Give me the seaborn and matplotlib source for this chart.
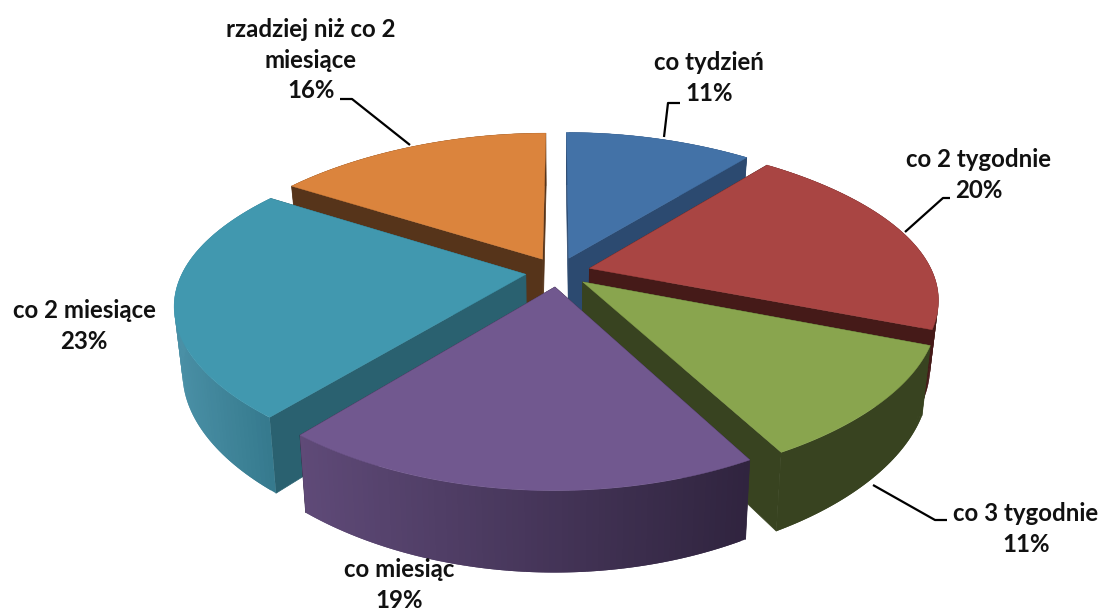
import numpy as np
import matplotlib
matplotlib.use("Agg")
import matplotlib.pyplot as plt
import seaborn as sns

categories = ["co tydzień", "co 2 tygodnie", "co 3 tygodnie", "co miesiąc", "co 2 miesiące", "rzadziej niż co 2\nmiesiące"]
values = [11, 20, 11, 19, 23, 16]

top_colors = ["#4372a7", "#a94543", "#89a54e", "#71588f", "#4198af", "#db843d"]
side_colors = ["#2c4a70", "#451a18", "#384320", "#33263f", "#2a6170", "#56341a"]
rim_left = ["#2c4a70", "#451a18", "#384320", "#5f4a78", "#4a90a6", "#56341a"]
rim_right = ["#2c4a70", "#451a18", "#384320", "#30243f", "#367a8e", "#56341a"]

sns.set_theme(style="white")
plt.rcParams["font.family"] = ["Lato", "DejaVu Sans"]

CX, CY, RX, RY, KX, KY, DEPTH, EXPLODE = 558, 272, 343, 156, 0.2, 0.2, 64, 0.095
BOW, CONVERGE = 0.05, 0.022
draw_order = [0, 5, 1, 4, 2, 3]


def project(X, Y, z=0.0):
    sx = (1 - BOW * Y ** 2) / (1 - KX * Y) * (1 - CONVERGE * z)
    sy = 1 / (1 - KY * Y)
    return CX + RX * X * sx, CY + RY * Y * sy + DEPTH * z * sy


fig = plt.figure(figsize=(11.02, 6.11), dpi=100)
ax = fig.add_axes([0, 0, 1, 1])
ax.set_xlim(0, 1102)
ax.set_ylim(611, 0)
ax.axis("off")

edges = np.cumsum([0] + values) / sum(values) * 2 * np.pi


def disc_point(theta, ox, oy, r=1.0):
    return ox + r * np.sin(theta), oy - r * np.cos(theta)


for i in draw_order:
    a0, a1 = edges[i], edges[i + 1]
    mid = (a0 + a1) / 2
    ox, oy = EXPLODE * np.sin(mid), -EXPLODE * np.cos(mid)
    th = np.linspace(a0, a1, 80)
    X, Y = disc_point(th, ox, oy)
    base_z = draw_order.index(i) * 3

    # cut faces
    for t in (a0, a1):
        px, py = disc_point(t, ox, oy)
        pts = [project(ox, oy), project(px, py), project(px, py, 1), project(ox, oy, 1)]
        ax.fill(*zip(*pts), color=side_colors[i], lw=0.5, zorder=base_z + 1)

    # outer rim, shaded from left to right; each quad overlaps the next to hide seams
    c0 = np.array(matplotlib.colors.to_rgb(rim_left[i]))
    c1 = np.array(matplotlib.colors.to_rgb(rim_right[i]))
    sx = project(X, Y)[0]
    for j in range(len(th) - 1):
        k = min(j + 2, len(th) - 1)
        f = (sx[j] - sx.min()) / max(sx.max() - sx.min(), 1)
        pts = [project(X[j], Y[j]), project(X[k], Y[k]),
               project(X[k], Y[k], 1), project(X[j], Y[j], 1)]
        ax.fill(*zip(*pts), color=c0 + (c1 - c0) * f, lw=0, zorder=base_z + 2)

    # top surface
    tx = np.concatenate([[ox], X])
    ty = np.concatenate([[oy], Y])
    ax.fill(*project(tx, ty), color=top_colors[i], lw=0.3, zorder=base_z + 3)

label_xy = [(709, 78), (979, 175), (1026, 529), (399, 585), (84, 326), (311, 60)]
leaders = [
    [(664, 137), (668, 103), (680, 103)],
    [(905, 232), (943, 198), (950, 198)],
    [(873, 485), (935, 520), (947, 520)],
    None,
    None,
    [(410, 145), (352, 99), (340, 99)],
]
for name, v, xy, lead in zip(categories, values, label_xy, leaders):
    ax.text(*xy, f"{name}\n{v}%", ha="center", va="center", fontsize=17.3, fontweight="bold",
            color="#111111", linespacing=1.4, zorder=50, clip_on=False)
    if lead:
        ax.plot(*zip(*lead), color="black", lw=1.6, zorder=49, solid_capstyle="butt")

fig.savefig("out.png", dpi=100, facecolor="white")
